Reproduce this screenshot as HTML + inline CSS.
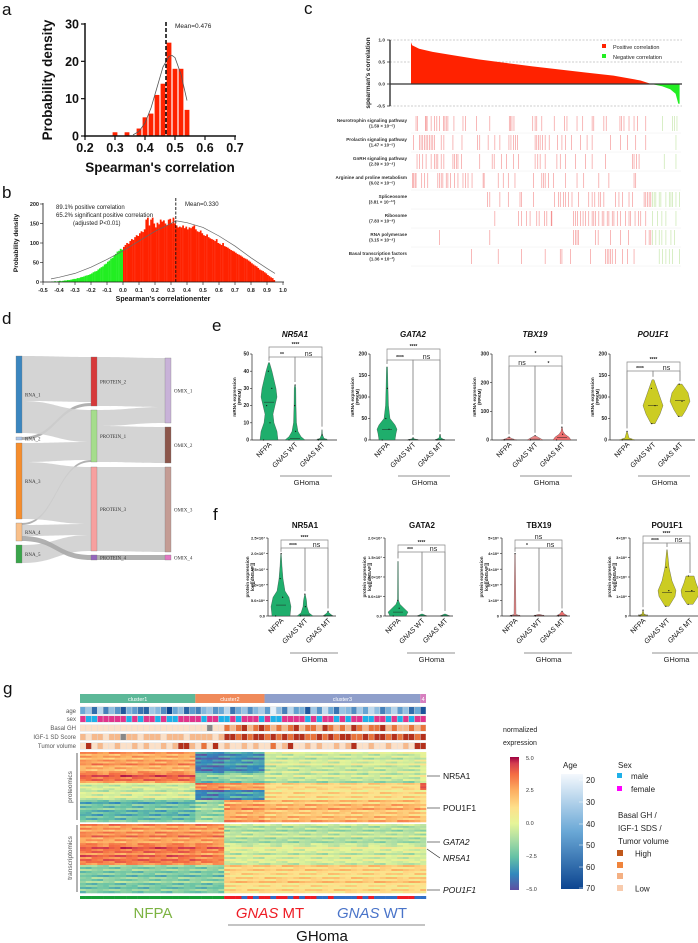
<!DOCTYPE html>
<html><head><meta charset="utf-8">
<style>
html,body{margin:0;padding:0;background:#fff}
svg{display:block;font-family:"Liberation Sans",sans-serif}
.pl{font-size:17px;fill:#111}
</style></head>
<body>
<svg id="fig" width="698" height="943" viewBox="0 0 698 943" xmlns="http://www.w3.org/2000/svg">
<defs>
<linearGradient id="spec" x1="0" y1="1" x2="0" y2="0">
<stop offset="0" stop-color="#5e4fa2"/><stop offset="0.12" stop-color="#3288bd"/><stop offset="0.25" stop-color="#66c2a5"/><stop offset="0.38" stop-color="#abdda4"/><stop offset="0.5" stop-color="#e6f598"/><stop offset="0.62" stop-color="#fee08b"/><stop offset="0.75" stop-color="#fdae61"/><stop offset="0.87" stop-color="#f46d43"/><stop offset="0.95" stop-color="#d53e4f"/><stop offset="1" stop-color="#9e0142"/>
</linearGradient>
<linearGradient id="ageg" x1="0" y1="0" x2="0" y2="1"><stop offset="0" stop-color="#f4f8fd"/><stop offset="0.5" stop-color="#6aa8d6"/><stop offset="1" stop-color="#0c4590"/></linearGradient>
</defs>
<text class="pl" x="2" y="15">a</text>
<text class="pl" x="2" y="198">b</text>
<text class="pl" x="304" y="14">c</text>
<text class="pl" x="2" y="324">d</text>
<text class="pl" x="212" y="331">e</text>
<text class="pl" x="213" y="520">f</text>
<text class="pl" x="3" y="694">g</text>
<g id="gA"></g>
<g id="gB"></g>
<g id="gC"></g>
<g id="gD"></g>
<g id="gE"></g>
<g id="gF"></g>
<g id="gG"></g>
</svg>
<script>
// ---------- DATA ----------
const aBins = [0.30,0.34,0.38,0.40,0.42,0.44,0.46,0.48,0.50,0.52,0.54];
const aVals = [1,1,2,5,6,11,14,25,18,18,7];
const aFitX = [0.36,0.38,0.40,0.42,0.44,0.46,0.48,0.49,0.50,0.52,0.54];
const aFitY = [0.3,1.2,3.5,7.5,13,18.5,21.3,21.6,21,16.5,9.5];
const aTicksX = [0.2,0.3,0.4,0.5,0.6,0.7];
const aTicksY = [0,10,20,30];
const aMean = 0.47;

const bStart = -0.45, bStep = 0.01;
const bVals = [1,1,2,1,2,3,2,3,4,4, 5,5,6,7,8,8,10,10,12,13, 14,16,17,18,20,22,25,27,28,32, 35,38,40,45,47,52,55,60,62,68,
72,78,80,85,83,90,95,100,98,105, 110,108,115,120,118,125,130,128,135,160, 165,145,160,165,150,140,152,148,160,155,
158,150,145,160,162,150,165,150,145,140, 142,140,145,138,142,135,140,138,142,145, 135,130,128,132,125,120,118,122,115,112,
110,108,105,110,100,98,95,100,92,90, 88,85,82,80,78,75,72,70,68,65, 62,60,58,55,52,48,45,42,40,36, 32,30,28,25,22,18,15,12,10,5];
const bFitX = [-0.45,-0.4,-0.3,-0.2,-0.1,0,0.1,0.2,0.3,0.33,0.4,0.5,0.6,0.7,0.8,0.9,0.95];
const bFitY = [8,12,22,38,58,80,105,130,150,157,152,140,118,92,62,35,22];
const bMean = 0.33;
const bTicksY = [0,50,100,150,200];

const cRanks = [0,0.004,0.03,0.08,0.15,0.25,0.35,0.45,0.55,0.65,0.75,0.85,0.89,0.93,0.96,0.98,0.99,0.995];
const cCorr = [0.95,0.88,0.80,0.73,0.66,0.56,0.48,0.40,0.33,0.26,0.19,0.08,0.0,-0.05,-0.12,-0.22,-0.45,-0.45];
const cTicks = [1.0,0.5,0.0,-0.5];
const pathwayNames = ["Neurotrophin signaling pathway","Prolactin signaling pathway","GnRH signaling pathway","Arginine and proline metabolism","Spliceosome","Ribosome","RNA polymerase","Basal transcription factors"];
const pathwayP = ["(1.59 × 10⁻⁶)","(1.47 × 10⁻⁵)","(2.39 × 10⁻⁴)","(6.02 × 10⁻⁶)","(3.81 × 10⁻¹²)","(7.83 × 10⁻⁸)","(3.15 × 10⁻⁴)","(1.36 × 10⁻³)"];
const geneTotal = 805, negStart = 717;
const pathwayHits = [
[15,20,43,45,48,60,70,77,85,97,101,105,110,128,155,163,195,235,293,297,301,307,363,370,375,390,427,458,465,495,512,540,545,575,582,623,627,635,650,665,675,700,750,780,785,793],
[8,25,30,35,40,45,50,55,60,65,70,90,98,125,152,198,205,230,250,265,292,298,305,312,318,370,375,380,385,392,400,412,437,450,460,478,505,525,540,595,625,645,670,700,790],
[18,25,35,45,60,70,75,80,90,98,125,130,135,140,150,205,242,248,270,285,305,320,370,378,385,400,435,445,460,490,520,540,580,660,665,672,680,755,790],
[5,8,12,15,32,40,50,80,85,90,95,105,110,118,130,140,155,162,170,182,215,218,260,275,290,310,365,390,395,400,410,425,460,495,515,560,590,665,670],
[228,235,265,290,325,330,365,428,440,445,455,460,470,480,500,530,540,548,560,565,575,610,620,630,650,660,695,700,705,710,715,720,725,730,740,745,760,770,775,780,790,800],
[250,320,330,345,355,375,382,398,405,418,420,485,490,497,505,513,520,530,540,545,550,560,570,575,585,590,600,605,615,625,640,650,655,668,678,685,700,720,735,748,760,790],
[85,235,485,490,495,500,550,558,595,625,648,700,710,715,720,730,740,748,760,775,785],
[180,260,330,400,445,450,475,535,580,585,590,595,600,610,630,645,665,740,750,760,770,780,800]];

const eTitles = ["NR5A1","GATA2","TBX19","POU1F1"];
const eMax = [50,200,300,200];
const eTicks = [[0,10,20,30,40,50],[0,50,100,150,200],[0,100,200,300],[0,50,100,150,200]];
const eProfiles = [
 [[[0,9],[5,8],[10,5],[15,4],[20,6],[25,8],[30,7],[35,5],[40,3],[45,0.5]], [[0,10],[2,6],[5,3],[10,1.5],[20,1],[30,0.8],[32,0.3]], [[0,6],[1,2],[3,0.5],[6,0.2]]],
 [[[0,8],[15,9],[25,10],[35,8],[50,3],[80,1.5],[120,1],[170,0.5]], [[0,6],[3,1],[5,0.3]], [[0,5],[5,1],[12,0.3]]],
 [[[0,8],[5,3],[10,0.5]], [[0,8],[8,4],[15,0.5]], [[0,9],[10,7],[20,3],[30,1],[45,0.3]]],
 [[[0,8],[5,2],[20,0.3]], [[38,2],[60,7],[80,10],[100,7],[120,4],[140,1]], [[55,2],[70,6],[90,10],[110,8],[130,2]]]];
const eMedians = [[22,1,0.5],[25,1,1],[2,3,8],[1,80,92]];
const eBrackets = [
 [[0,2,347,"****"],[0,1,357,"**"],[1,2,357,"ns"]],
 [[0,2,349,"****"],[0,1,360,"****"],[1,2,360,"ns"]],
 [[0,2,356,"*"],[0,1,366,"ns"],[1,2,366,"*"]],
 [[0,2,362,"****"],[0,1,371,"****"],[1,2,371,"ns"]]];

const fTitles = ["NR5A1","GATA2","TBX19","POU1F1"];
const fMax = [25,20,5,4];
const fTicks = [[0,5,10,15,20,25],[0,5,10,15,20],[0,1,2,3,4,5],[0,1,2,3,4]];
const fTickLabels = [["0.0","5.0×10⁶","1.0×10⁷","1.5×10⁷","2.0×10⁷","2.5×10⁷"],["0.0","5.0×10⁶","1.0×10⁷","1.5×10⁷","2.0×10⁷"],["0","1×10⁶","2×10⁶","3×10⁶","4×10⁶","5×10⁶"],["0","1×10⁶","2×10⁶","3×10⁶","4×10⁶"]];
const fProfiles = [
 [[[0,9],[3,10],[6,8],[8,4],[12,2],[16,1],[20,0.3]], [[0,8],[1,4],[3,2],[5,1.5],[7,0.3]], [[0,5],[1,1],[1.5,0.2]]],
 [[[0,8],[1,10],[2,6],[3,2],[4,0.5],[14,0.3]], [[0,5],[0.5,0.5]], [[0,5],[0.5,0.5]]],
 [[[0,6],[0.1,1],[4,0.3]], [[0,6],[0.1,1]], [[0,6],[0.15,2],[0.3,0.3]]],
 [[[0,5],[0.1,1],[0.3,0.2]], [[0.5,2],[1,8],[1.3,9],[1.8,5],[2.5,2],[3.4,0.3]], [[0.6,3],[1,8],[1.3,9],[1.7,6],[2.05,4]]]];
const fMedians = [[3.5,0.3,0.1],[1,0.05,0.05],[0.05,0.05,0.05],[0.05,1.2,1.25]];
const fBrackets = [
 [[0,2,540,"****"],[0,1,548,"****"],[1,2,548,"ns"]],
 [[0,2,545,"****"],[0,1,552,"***"],[1,2,552,"ns"]],
 [[0,2,540,"ns"],[0,1,548,"*"],[1,2,548,"ns"]],
 [[0,2,536,"****"],[0,1,543,"****"],[1,2,543,"ns"]]];

const clusterNames = ["cluster1","cluster2","cluster3","4"];
const clusterCols = [20,12,27,1];
const ageVals = [45,35,60,30,55,38,50,65,42,48,58,62,35,40,52,70,45,38,62,48,55,40,35,50,45,30,58,44,36,52,40,33,48,22,38,55,30,47,42,65,35,50,28,44,58,36,40,52,34,46,29,38,55,42,31,48,37,60,45,66];
const sexVals = [1,0,0,1,1,1,1,1,0,1,0,1,1,0,1,0,0,1,1,1,1,0,1,1,0,0,1,0,1,1,1,0,1,0,0,1,1,1,1,0,1,0,1,1,0,1,0,1,1,0,0,1,1,0,1,0,1,0,1,1];
const ghVals = [1,1,1,1,1,1,1,1,1,1,1,1,1,1,1,1,1,1,1,1,1,1,0,1,1,3,2,3,4,2,3,4,3,2,3,2,3,4,2,3,3,2,4,3,2,3,2,4,3,2,3,3,4,2,3,2,2,3,2,3];
const igfVals = [2,1,2,2,1,2,2,0,2,2,1,2,2,2,1,2,2,2,1,2,2,2,2,1,2,4,4,3,4,3,4,4,3,4,3,4,3,4,4,3,3,4,3,4,3,4,4,3,3,4,3,4,4,3,4,3,4,4,3,4];
const tumorVals = [1,4,1,2,1,1,2,1,1,2,1,2,1,1,2,1,2,4,4,2,1,3,1,4,1,2,1,1,2,1,2,1,1,3,1,2,4,1,1,2,1,2,1,1,2,1,2,4,1,1,2,1,1,2,1,1,2,1,4,4];
const groupVals = ["N","N","N","N","N","N","N","N","N","N","N","N","N","N","N","N","N","N","N","N","N","N","N","N","N","M","M","M","W","M","W","M","M","W","M","M","W","M","W","M","M","W","W","M","W","W","W","W","M","W","M","W","W","W","W","M","M","M","W","W"];
// column segment of each heatmap column: 0=cluster1, 1=cluster2-NFPA, 2=cluster2-GH, 3=cluster3, 4=cluster4
const colSegStart = [0,20,25,32,59];
const protBands = [21,10,7,10,22];
const protLevels = [[2.5,-4,-3.5,-0.5,0],[3.5,-2,-1.5,-0.8,0],[-0.5,3,2.5,1.2,4],[-0.5,-4,-3.5,1.0,1],[-2.5,-1.5,2.5,2,1.5]];
const transBands = [21,20,28];
const transLevels = [[2.8,2.8,-1,-1,-1],[3.5,3.2,-0.3,-0.3,-0.3],[-2,-2,1.3,1.3,1.3]];
const rowTexture = [0.6,-0.4,0.3,-0.7,0.5,-0.2,0.8,-0.5,0.1,-0.6,0.4,-0.3,0.7,-0.1,0.2,-0.8,0.5,-0.4,0.3,0.0,-0.5,0.6,-0.2];
const colTexture = [0.3,-0.2,0.5,-0.4,0.1,0.6,-0.3,0.2,-0.5,0.4,0.0,-0.2,0.5,-0.6,0.3];

// ---------- HELPERS ----------
const NS = "http://www.w3.org/2000/svg";
function mk(tag, parent, attrs){ const e=document.createElementNS(NS,tag); for(const k in attrs) e.setAttribute(k,attrs[k]); parent.appendChild(e); return e; }
function txt(parent, x, y, s, size, attrs){ const e=mk("text",parent,Object.assign({x:x,y:y,"font-size":size},attrs||{})); e.textContent=s; return e; }
function lerpPath(xs, ys){ return xs.map((x,i)=>(i?"L":"M")+x.toFixed(1)+","+ys[i].toFixed(1)).join(""); }

// ---------- PANEL A ----------
(function(){
 const g=document.getElementById("gA");
 const xa=v=>85+(v-0.2)*300, ya=v=>136-v*112/30;
 aVals.forEach((v,i)=>{ const r=mk("rect",g,{x:xa(aBins[i])-2.4,y:ya(v),width:4.8,height:136-ya(v),fill:"#ff2200"});
  
   });
 const fit=mk("path",g,{d:lerpPath(aFitX.map(xa),aFitY.map(ya)),fill:"none",stroke:"#555","stroke-width":0.8});
 
 
 const ml=mk("line",g,{x1:xa(aMean),x2:xa(aMean),y1:22,y2:136,stroke:"#111","stroke-width":1.6,"stroke-dasharray":"4,2"});
 
 
 const mt=txt(g,175,28,"Mean=0.476",6.5,{fill:"#222"});
 
 
 mk("line",g,{x1:85,x2:85,y1:23,y2:137,stroke:"#111","stroke-width":1.5});
 mk("line",g,{x1:84,x2:236,y1:136,y2:136,stroke:"#111","stroke-width":1.5});
 aTicksX.forEach(t=>{ mk("line",g,{x1:xa(t),x2:xa(t),y1:136,y2:140,stroke:"#111","stroke-width":1.2});
  const l=txt(g,xa(t),152,t.toFixed(1),12.5,{"text-anchor":"middle","font-weight":"bold",fill:"#111"});
  
   });
 aTicksY.forEach(t=>{ mk("line",g,{x1:81,x2:85,y1:ya(t),y2:ya(t),stroke:"#111","stroke-width":1.2});
  const l=txt(g,79,ya(t)+4.5,String(t),12.5,{"text-anchor":"end","font-weight":"bold",fill:"#111"});
  
   });
 const xt=txt(g,160,172,"Spearman's correlation",13.5,{"text-anchor":"middle","font-weight":"bold",fill:"#111"});
 
 
 const yt=txt(g,0,0,"Probability density",13.5,{"text-anchor":"middle","font-weight":"bold",fill:"#111",transform:"translate(52,80) rotate(-90)"});
 
 
})();

// ---------- PANEL B ----------
(function(){
 const g=document.getElementById("gB");
 const xb=v=>43+(v+0.5)*160, yb=v=>282-v*78/200;
 bVals.forEach((v,i)=>{ const x0=bStart+i*bStep;
  const r=mk("rect",g,{x:xb(x0),y:yb(v),width:bStep*160+0.15,height:282-yb(v),fill:x0<0?"#22ee22":"#ff2200"});
  
   });
 const fit=mk("path",g,{d:lerpPath(bFitX.map(xb),bFitY.map(yb)),fill:"none",stroke:"#666","stroke-width":0.7});
 
 
 const ml=mk("line",g,{x1:xb(bMean),x2:xb(bMean),y1:198,y2:282,stroke:"#111","stroke-width":0.9,"stroke-dasharray":"3,1.5"});
 
 
 const mt=txt(g,185,206,"Mean=0.330",6,{fill:"#222"});
 
 
 const notes=[["89.1% positive correlation",56,209],["65.2% significant positive correlation",56,217],["(adjusted P<0.01)",73,225]];
 notes.forEach(n=>{ const t=txt(g,n[1],n[2],n[0],6,{fill:"#222"});
  
   });
 mk("line",g,{x1:43,x2:43,y1:203,y2:282,stroke:"#111","stroke-width":0.8});
 mk("line",g,{x1:43,x2:284,y1:282,y2:282,stroke:"#111","stroke-width":0.8});
 for(let k=0;k<=15;k++){ const v=-0.5+k*0.1; mk("line",g,{x1:xb(v),x2:xb(v),y1:282,y2:285,stroke:"#111","stroke-width":0.6});
  const l=txt(g,xb(v),292,(Math.abs(v)<1e-9?0:v).toFixed(1),5.5,{"text-anchor":"middle","font-weight":"bold",fill:"#222"});
  
   }
 bTicksY.forEach(t=>{ mk("line",g,{x1:40,x2:43,y1:yb(t),y2:yb(t),stroke:"#111","stroke-width":0.6});
  const l=txt(g,39,yb(t)+2,String(t),5.5,{"text-anchor":"end","font-weight":"bold",fill:"#222"});
  
   });
 const xt=txt(g,163,301,"Spearman's correlationenter",7,{"text-anchor":"middle","font-weight":"bold",fill:"#111"});
 
 
 const yt=txt(g,0,0,"Probability density",6.5,{"text-anchor":"middle","font-weight":"bold",fill:"#111",transform:"translate(18,243) rotate(-90)"});
 
 
})();

// ---------- PANEL C ----------
(function(){
 const g=document.getElementById("gC");
 const xc=r=>411+r*270, yc=v=>84-v*44;
 [1.0,0.5,-0.5].forEach(v=>{ mk("line",g,{x1:390,x2:682,y1:yc(v),y2:yc(v),stroke:"#999","stroke-width":0.6,"stroke-dasharray":"2,1.5"}); });
 let zi=cCorr.findIndex(v=>v<=0);
 const posX=[xc(cRanks[0])].concat(cRanks.slice(0,zi+1).map(xc)), posY=[yc(0)].concat(cCorr.slice(0,zi+1).map(yc));
 const red=mk("path",g,{d:lerpPath(posX,posY)+"Z",fill:"#ff2200"});
 
 
 const negR=cRanks.slice(zi), negV=cCorr.slice(zi);
 const gX=negR.map(xc).concat([xc(negR[negR.length-1])]), gY=negV.map(yc).concat([yc(0)]);
 const grn=mk("path",g,{d:lerpPath(gX,gY)+"Z",fill:"#22ee22"});
 
 
 mk("line",g,{x1:390,x2:682,y1:yc(0),y2:yc(0),stroke:"#333","stroke-width":1.2});
 mk("line",g,{x1:390,x2:390,y1:yc(1),y2:yc(-0.5),stroke:"#333","stroke-width":1.4});
 cTicks.forEach(t=>{ mk("line",g,{x1:387,x2:390,y1:yc(t),y2:yc(t),stroke:"#333","stroke-width":0.8});
  const l=txt(g,385,yc(t)+1.7,t.toFixed(1),4.8,{"text-anchor":"end","font-weight":"bold",fill:"#333"});
  
   });
 const yt=txt(g,0,0,"spearman's correlation",6.5,{"text-anchor":"middle","font-weight":"bold",fill:"#222",transform:"translate(370,73) rotate(-90)"});
 
 
 const lg1=mk("rect",g,{x:602,y:44,width:4,height:4,fill:"#ff2200"});  
 const lt1=txt(g,613,49,"Positive correlation",5.5,{fill:"#222"});  
 const lg2=mk("rect",g,{x:602,y:54,width:4,height:4,fill:"#22ee22"});  
 const lt2=txt(g,613,59,"Negative correlation",5.5,{fill:"#222"});  
 pathwayNames.forEach((nm,i)=>{ const top=115+i*19;
  pathwayHits[i].forEach(h=>{ const x=411+h/geneTotal*270;
   const s=mk("line",g,{x1:x,x2:x,y1:top+1,y2:top+16,stroke:h>negStart?"#bfe3a0":"#f38a8a","stroke-width":0.6});
   
    });
  mk("line",g,{x1:411,x2:681,y1:top+18,y2:top+18,stroke:"#eee","stroke-width":0.5});
  const t1=txt(g,407,top+7,nm,4.6,{"text-anchor":"end","font-weight":"bold",fill:"#333"});
  
  
  const t2=txt(g,382,top+12.5,pathwayP[i],4.4,{"text-anchor":"middle","font-weight":"bold",fill:"#333"});
  
   });
})();

// ---------- PANEL D (Sankey) ----------
(function(){
 const g=document.getElementById("gD");
 const links=[[22,356,401,91,357,402],[22,437,440,91,403,406],[22,401,433,91,410,442],[22,443,462,91,442,460],[22,523,525,91,460,462],[22,462,519,91,467,524],[22,525,536,91,524,535],[22,545,563,91,535,551],[22,536,541,91,555,560],
  [97,357,406,165,358,407],[97,410,426,165,407,423],[97,426,462,165,427,463],[97,467,551,165,467,552],[97,555,560,165,555,560]];
 links.forEach(L=>{ const [x1,a0,a1,x2,b0,b1]=L, m=(x1+x2)/2;
  const thin=(a1-a0)<=5;
  const p=mk("path",g,{d:`M${x1},${a0}C${m},${a0} ${m},${b0} ${x2},${b0}L${x2},${b1}C${m},${b1} ${m},${a1} ${x1},${a1}Z`,fill:thin?"#a9a9a9":"#cfcfcf",opacity:0.9});
  
   });
 const nodes=[["RNA_1",16,356,433,"#3b86bf"],["RNA_2",16,437,440,"#aec7e8"],["RNA_3",16,443,519,"#f58d2d"],["RNA_4",16,523,541,"#f9c08a"],["RNA_5",16,545,563,"#3aa54a"],
  ["PROTEIN_2",91,357,406,"#d6393a"],["PROTEIN_1",91,410,462,"#a5dd8c"],["PROTEIN_3",91,467,551,"#f7a09f"],["PROTEIN_4",91,555,560,"#9467bd"],
  ["OMIX_1",165,358,423,"#c8b2d8"],["OMIX_2",165,427,463,"#8c564b"],["OMIX_3",165,467,552,"#c49c94"],["OMIX_4",165,555,560,"#e377c2"]];
 nodes.forEach(n=>{ const r=mk("rect",g,{x:n[1],y:n[2],width:6,height:n[3]-n[2],fill:n[4],stroke:"#777","stroke-width":0.3});
  
  
  const t=txt(g,n[1]+9,(n[2]+n[3])/2+1.8,n[0],5,{"font-family":"Liberation Serif",fill:"#333"});
  
   });
})();

// ---------- VIOLIN PANELS ----------
function violinPanel(g, lefts, top, bottom, maxs, ticks, tickLabels, profiles, medians, brackets, titles, italicTitle, colors, offs, xEnd, yTitle, ghY, prefix){
 lefts.forEach((L,p)=>{
  const ys=v=>bottom-v/maxs[p]*(bottom-top);
  const cx=offs.map(o=>L+o);
  mk("line",g,{x1:L,x2:L,y1:top,y2:bottom,stroke:"#222","stroke-width":0.7});
  mk("line",g,{x1:L,x2:L+xEnd,y1:bottom,y2:bottom,stroke:"#222","stroke-width":0.7});
  ticks[p].forEach((t,k)=>{ mk("line",g,{x1:L-2,x2:L,y1:ys(t),y2:ys(t),stroke:"#222","stroke-width":0.6});
   const l=txt(g,L-3,ys(t)+1.6,tickLabels?tickLabels[p][k]:String(t),tickLabels?4:5,{"text-anchor":"end","font-weight":"bold",fill:"#222"});
   
    });
  profiles[p].forEach((prof,c)=>{
   const right=prof.map(q=>[cx[c]+q[1],ys(q[0])]), left=prof.slice().reverse().map(q=>[cx[c]-q[1],ys(q[0])]);
   const pts=right.concat(left);
   const v=mk("path",g,{d:pts.map((q,i)=>(i?"L":"M")+q[0].toFixed(1)+","+q[1].toFixed(1)).join("")+"Z",fill:colors[p][c],stroke:"#333","stroke-width":0.3,"stroke-linejoin":"round"});
   
   
   const md=mk("line",g,{x1:cx[c]-5,x2:cx[c]+5,y1:ys(medians[p][c]),y2:ys(medians[p][c]),stroke:"#222","stroke-width":0.5});
   
   
   prof.forEach((q,k)=>{ if(k%2===0){ const d=mk("circle",g,{cx:cx[c]+((k*37)%7-3)*q[1]/5,cy:ys(q[0]),r:0.6,fill:"#111"});
    
     } });
  });
  const topOf=c=>ys(profiles[p][c][profiles[p][c].length-1][0])-3;
  brackets[p].forEach(b=>{ const [a,c,y,lab]=b;
   const br=mk("path",g,{d:`M${cx[a]},${Math.max(y+4,topOf(a))}L${cx[a]},${y}L${cx[c]},${y}L${cx[c]},${Math.max(y+4,topOf(c))}`,fill:"none",stroke:"#888","stroke-width":0.7});
   
   
   const t=txt(g,(cx[a]+cx[c])/2,lab==="ns"?y-1:y-1.2,lab,lab==="ns"?7:5,{"text-anchor":"middle","font-weight":lab==="ns"?"normal":"bold",fill:"#222"});
   
    });
  const tt=txt(g,cx[1],top-(prefix==="e"?17:10),titles[p],8,{"text-anchor":"middle","font-weight":"bold","font-style":italicTitle?"italic":"normal",fill:"#111"});
  
  
  const yt=mk("text",g,{"font-size":4.6,"text-anchor":"middle","font-weight":"bold",fill:"#222",transform:`translate(${L-(tickLabels?19:16)},${(top+bottom)/2}) rotate(-90)`});
  yt.innerHTML=`<tspan x="0" dy="0">${yTitle[0]}</tspan><tspan x="0" dy="5">${yTitle[1]}</tspan>`;
  
  
  const cats=[["NFPA",""],["GNAS"," WT"],["GNAS"," MT"]];
  cats.forEach((ct,c)=>{ const t=mk("text",g,{"font-size":7,"text-anchor":"end",fill:"#111",transform:`translate(${cx[c]+3},${bottom+5}) rotate(-45)`});
   t.innerHTML=ct[1]?`<tspan font-style="italic">${ct[0]}</tspan>${ct[1]}`:ct[0];
   
    });
  mk("line",g,{x1:cx[1]-15,x2:cx[2]+10,y1:ghY,y2:ghY,stroke:"#222","stroke-width":0.6});
  const gh=txt(g,(cx[1]+cx[2])/2-2,ghY+9,"GHoma",7.5,{"text-anchor":"middle",fill:"#222"});
  
  
 });
}
const G1="#1fae6c",Y1="#cccc22",R1="#ef6f6f";
violinPanel(document.getElementById("gE"),[252,370,492,610],354,440,eMax,eTicks,null,eProfiles,eMedians,eBrackets,eTitles,true,
 [[G1,G1,G1],[G1,G1,G1],["#e88","#e88",R1],[Y1,Y1,Y1]],[17,43,70],85,["mRNA expression","(FPKM)"],476,"e");
violinPanel(document.getElementById("gF"),[268,385,502,630],538,616,fMax,fTicks,fTickLabels,fProfiles,fMedians,fBrackets,fTitles,false,
 [[G1,G1,G1],[G1,G1,G1],["#e88","#e88",R1],[Y1,Y1,Y1]],[13,37,60],68,["protein expression","log[[dNSAF]]"],653,"f");

// ---------- PANEL G ----------
(function(){
 const g=document.getElementById("gG");
 const X0=80, W=346;
 const spec=[[-5,[94,79,162]],[-3.8,[50,136,189]],[-2.5,[102,194,165]],[-1.2,[171,221,164]],[0,[230,245,152]],[1.2,[254,224,139]],[2.5,[253,174,97]],[3.7,[244,109,67]],[4.5,[213,62,79]],[5,[158,1,66]]];
 function sc(v){ v=Math.max(-5,Math.min(5,v)); for(let i=1;i<spec.length;i++){ if(v<=spec[i][0]){ const a=spec[i-1],b=spec[i],t=(v-a[0])/(b[0]-a[0]); return "rgb("+a[1].map((c,k)=>Math.round(c+(b[1][k]-c)*t)).join(",")+")"; } } return "rgb(158,1,66)"; }
 const clCols=["#5cb898","#f08a5a","#8f9fcb","#d77fbf"];
 const totCols=clusterCols.reduce((a,b)=>a+b,0);
 let cx=X0;
 clusterCols.forEach((n,i)=>{ const w=n/totCols*W;
  const r=mk("rect",g,{x:cx,y:694,width:w,height:9,fill:clCols[i]});  
  const t=txt(g,cx+w/2,701,clusterNames[i],5.5,{"text-anchor":"middle",fill:"#fff"});  
  cx+=w; });
 function ageCol(a){ const t=(a-20)/50; const c0=[240,246,252],c1=[106,168,214],c2=[12,69,144]; const [A,B,u]=t<0.5?[c0,c1,t*2]:[c1,c2,(t-0.5)*2]; return "rgb("+A.map((c,k)=>Math.round(c+(B[k]-c)*u)).join(",")+")"; }
 const lvl=["#888888","#fbe0c8","#f6b98c","#e8743c","#b3301c"];
 const annRows=[["age",707,7,ageVals,ageCol],["sex",716,6,sexVals,v=>v?"#e0348c":"#1fb0e8"],["Basal GH",725,6,ghVals,v=>lvl[v]],["IGF-1 SD Score",734,6,igfVals,v=>lvl[v]],["Tumor volume",743,6,tumorVals,v=>lvl[v]]];
 annRows.forEach(row=>{ const [nm,y,h,vals,f]=row, w=W/vals.length;
  mk("rect",g,{x:X0,y:y-0.5,width:W,height:h+1,fill:"#ddd"});
  vals.forEach((v,i)=>{ const r=mk("rect",g,{x:X0+i*w+0.25,y:y,width:w-0.5,height:h,fill:f(v)});
   
    });
  const t=txt(g,76,y+h-1,nm,6,{"text-anchor":"end",fill:"#555"});   });
 const nCols=60, cw=W/nCols;
 const segOf=c=>{ let s=0; colSegStart.forEach((st,i)=>{ if(c>=st) s=i; }); return s; };
 function block(y0,bands,levels,tag){ let y=y0, rowIdx=0;
  bands.forEach((bh,bi)=>{
   const nr=Math.max(2,Math.round(bh/2)), rh=bh/nr;
   for(let k=0;k<nr;k++){ const rt=rowTexture[(rowIdx++)%rowTexture.length];
    for(let c=0;c<nCols;c++){ const base=levels[bi][segOf(c)];
     const ct=colTexture[(c*7+k)%colTexture.length];
     const r=mk("rect",g,{x:X0+c*cw,y:y+k*rh,width:cw+0.3,height:rh+0.3,fill:sc(base+rt*1.1+ct*0.9)});
     
      } }
   y+=bh; }); }
 block(752,protBands,protLevels,"proteomics");
 block(824,transBands,transLevels,"transcriptomics");
 mk("line",g,{x1:77,x2:77,y1:753,y2:820,stroke:"#666","stroke-width":1});
 mk("line",g,{x1:77,x2:77,y1:825,y2:892,stroke:"#666","stroke-width":1});
 const pr=txt(g,0,0,"proteomics",6.5,{"text-anchor":"middle",fill:"#555",transform:"translate(72,787) rotate(-90)"});  
 const tr=txt(g,0,0,"transcriptomics",6.5,{"text-anchor":"middle",fill:"#555",transform:"translate(72,858) rotate(-90)"});  
 const gw=W/groupVals.length;
 groupVals.forEach((v,i)=>{ const r=mk("rect",g,{x:X0+i*gw,y:896,width:gw+0.2,height:3,fill:v==="N"?"#18a038":(v==="M"?"#ee1c25":"#2f6fc6")});
  
   });
 const genes=[["NR5A1",776,776,false],["POU1F1",808,808,false],["GATA2",842,842,true],["NR5A1",855,858,true],["POU1F1",890,890,true]];
 genes.forEach((q,i)=>{ mk("line",g,{x1:427,x2:440,y1:i===3?849:q[1],y2:q[2],stroke:"#222","stroke-width":0.6});
  const t=txt(g,443,q[2]+3,q[0],8.5,{fill:"#111","font-style":q[3]?"italic":"normal"});
  
   });
 const n1=txt(g,153,918,"NFPA",15,{"text-anchor":"middle",fill:"#7cb342"});  
 const n2=mk("text",g,{x:270,y:918,"font-size":15,"text-anchor":"middle",fill:"#ee1c25"}); n2.innerHTML='<tspan font-style="italic">GNAS</tspan> MT';  
 const n3=mk("text",g,{x:372,y:918,"font-size":15,"text-anchor":"middle",fill:"#4a74c9"}); n3.innerHTML='<tspan font-style="italic">GNAS</tspan> WT';  
 mk("line",g,{x1:228,x2:425,y1:925,y2:925,stroke:"#888","stroke-width":1});
 const gh=txt(g,322,941,"GHoma",15,{"text-anchor":"middle",fill:"#111"});  
 const t1=txt(g,503,732,"normalized",7,{fill:"#222"});  
 const t2=txt(g,503,745,"expression",7,{fill:"#222"});  
 const cb=mk("rect",g,{x:510,y:757,width:9,height:133,fill:"url(#spec)"});  
 [["5.0",760],["2.5",792],["0.0",825],["−2.5",858],["−5.0",891]].forEach(q=>{ const t=txt(g,526,q[1],q[0],5.5,{fill:"#333"});   });
 const at=txt(g,563,768,"Age",8,{fill:"#222"});  
 const ab=mk("rect",g,{x:561,y:774,width:22,height:115,fill:"url(#ageg)"});  
 [["20",783],["30",805],["40",827],["50",848],["60",870],["70",891]].forEach(q=>{ mk("line",g,{x1:579,x2:583,y1:q[1]-3,y2:q[1]-3,stroke:"#fff","stroke-width":0.5});
  const t=txt(g,586,q[1],q[0],8,{fill:"#222"});   });
 const st=txt(g,618,768,"Sex",8,{fill:"#222"});  
 [["male","#1fb0e8",773],["female","#ff00ff",786]].forEach(q=>{ const r=mk("rect",g,{x:617,y:q[2],width:5,height:5,fill:q[1]});  
  const t=txt(g,631,q[2]+6,q[0],8,{fill:"#222"});   });
 [["Basal GH /",818],["IGF-1 SDS /",831],["Tumor volume",844]].forEach(q=>{ const t=txt(g,618,q[1],q[0],8,{fill:"#222"});   });
 [["#c0571a",850,"High"],["#f0843c",862,""],["#f4b083",873,""],["#f8cbad",885,"Low"]].forEach(q=>{ const r=mk("rect",g,{x:617,y:q[1],width:6,height:6,fill:q[0]});  
  if(q[2]){ const t=txt(g,635,q[1]+6.5,q[2],8,{fill:"#222"});   } });
})();
</script>
</body></html>
